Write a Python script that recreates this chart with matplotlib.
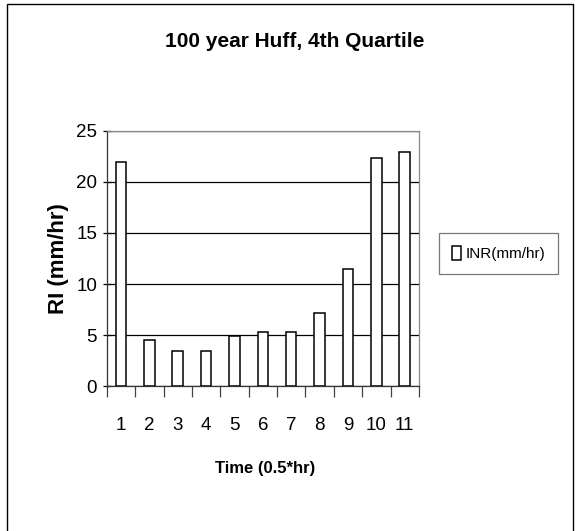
import matplotlib.pyplot as plt
from matplotlib.patches import Rectangle
from matplotlib.ticker import FixedLocator

plt.rcParams['font.family'] = ['Liberation Sans', 'DejaVu Sans']

# data
periods = [1, 2, 3, 4, 5, 6, 7, 8, 9, 10, 11]
intensity = [21.9, 4.5, 3.5, 3.5, 4.9, 5.3, 5.3, 7.2, 11.5, 22.3, 22.9]
y_ticks = [0, 5, 10, 15, 20, 25]

fig = plt.figure(figsize=(5.77, 5.31), dpi=100)
ax = fig.add_axes([0.185, 0.2723, 0.541, 0.4819])

# outer chart border
fig.patches.append(Rectangle((0.012, -0.02), 0.981, 1.012,
                             transform=fig.transFigure, fill=False,
                             edgecolor='black', linewidth=1.0))

ax.bar(periods, intensity, width=0.37, color='white',
       edgecolor='black', linewidth=1.1, zorder=3, label='INR(mm/hr)')

ax.set_xlim(0.5, len(periods) + 0.5)
ax.set_ylim(0, 25)
ax.set_yticks(y_ticks)
ax.set_xticks(periods)
ax.set_xticklabels([str(p) for p in periods])
ax.xaxis.set_minor_locator(FixedLocator([p + 0.5 for p in [0] + periods]))

ax.grid(axis='y', color='black', linewidth=0.9, zorder=0)
ax.tick_params(axis='x', which='major', length=0, pad=22, labelsize=13.5)
ax.tick_params(axis='x', which='minor', length=8, width=0.9,
               direction='out', color='#444444')
ax.tick_params(axis='y', length=6, width=0.9, direction='inout',
               pad=4, labelsize=13.5)

for side in ['top', 'right']:
    ax.spines[side].set_color('#888888')
    ax.spines[side].set_linewidth(0.9)
for side in ['left', 'bottom']:
    ax.spines[side].set_color('#333333')
    ax.spines[side].set_linewidth(0.9)

fig.text(0.51, 0.921, '100 year Huff, 4th Quartile', ha='center',
         va='center', fontsize=15, fontweight='bold')
fig.text(0.101, 0.513, 'RI (mm/hr)', ha='center', va='center',
         rotation=90, fontsize=16, fontweight='bold')
fig.text(0.459, 0.118, 'Time (0.5*hr)', ha='center', va='center',
         fontsize=12, fontweight='bold')

leg = ax.legend(loc='center left', bbox_to_anchor=(1.04, 0.52),
                frameon=True, fancybox=False, edgecolor='#555555',
                handlelength=0.6, handleheight=1.1, handletextpad=0.3,
                borderpad=0.85, prop={'size': 11})
leg.get_frame().set_linewidth(0.9)

fig.savefig('out.png', dpi=100)
